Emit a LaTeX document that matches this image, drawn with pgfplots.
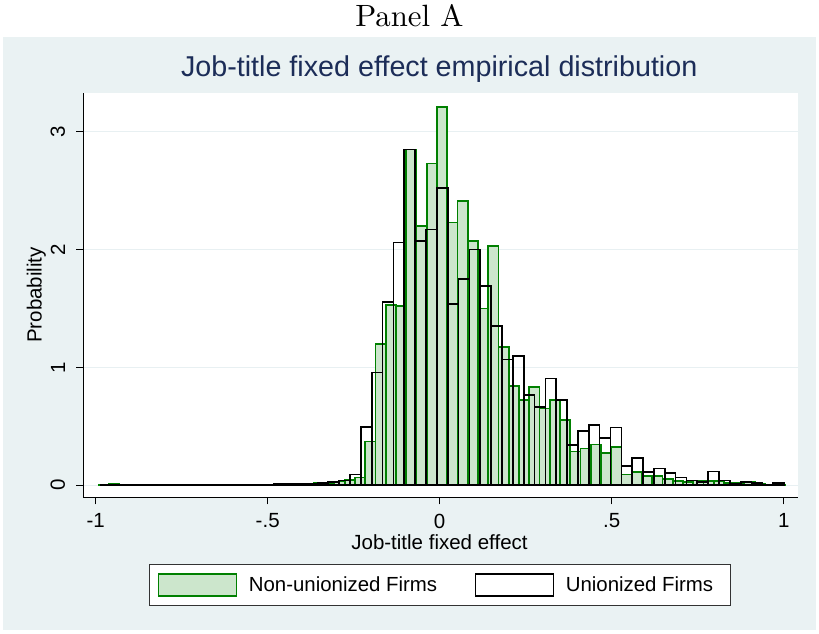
\documentclass[border=0pt]{standalone}
\usepackage{fontspec}
\usepackage{graphicx}
\usepackage{pgfplots}
\usepackage{pgfplotstable}
\pgfplotsset{compat=1.18}
\newfontfamily\arial{Liberation Sans}
\definecolor{bgcol}{RGB}{234,242,243}
\definecolor{gridcol}{RGB}{232,240,242}
\definecolor{titlecol}{RGB}{28,45,88}
\definecolor{gfill}{RGB}{204,230,204}
\definecolor{gline}{RGB}{0,128,0}

% Non-unionized firms: bin heights (67 bins), last row closes the final interval
\pgfplotstableread{
h
0.003
0.008
0.003
0.003
0.003
0.003
0.003
0.003
0.003
0.003
0.003
0.004
0.004
0.004
0.004
0.004
0.004
0.004
0.004
0.006
0.010
0.015
0.020
0.030
0.045
0.065
0.370
1.200
1.530
1.520
2.850
2.200
2.730
3.210
2.230
2.410
2.070
1.500
2.030
1.170
0.840
0.720
0.830
0.650
0.720
0.550
0.285
0.310
0.345
0.270
0.325
0.090
0.110
0.075
0.080
0.050
0.035
0.025
0.040
0.035
0.035
0.015
0.020
0.025
0.008
0.005
0.004
0
}\greendata

% Unionized firms: bin heights (63 bins), last row closes the final interval
\pgfplotstableread{
h
0.003
0.002
0.002
0.002
0.003
0.002
0.002
0.003
0.002
0.003
0.003
0.004
0.005
0.006
0.006
0.005
0.008
0.010
0.013
0.012
0.020
0.027
0.040
0.090
0.495
0.957
1.556
2.060
2.850
2.070
2.170
2.520
1.540
1.750
2.000
1.690
1.350
1.067
1.095
0.764
0.665
0.906
0.720
0.340
0.458
0.510
0.400
0.490
0.160
0.230
0.110
0.140
0.100
0.065
0.040
0.025
0.115
0.040
0.010
0.025
0.015
0.005
0.020
0
}\blackdata

\begin{document}
\begin{tikzpicture}
\useasboundingbox (0,0) rectangle (819pt,633pt);
\fill[white] (0,0) rectangle (819pt,633pt);
\fill[bgcol] (3pt,3pt) rectangle (816pt,596pt);
\node[anchor=base, inner sep=0pt] at (409.4pt,606pt) {\scalebox{3.08}{\fontsize{10}{12}\selectfont Panel A}};
\begin{axis}[
  at={(83pt,135.7pt)}, anchor=south west,
  scale only axis, width=714.7pt, height=404pt,
  xmin=-1.0369, xmax=1.0407, ymin=-0.1036, ymax=3.326,
  axis lines*=left,
  axis line style={-, black, line width=0.9pt},
  axis background/.style={fill=white},
  xtick={-1,-0.5,0,0.5,1}, xticklabels={-1,-.5,0,.5,1},
  ytick={0,1,2,3}, yticklabels={0,1,2,3},
  tick align=outside, major tick length=7pt,
  tick style={black, line width=0.9pt},
  ymajorgrids, grid style={draw=gridcol, line width=1.2pt},
  ticklabel style={font=\arial\fontsize{20.5}{24}\selectfont, inner sep=0pt},
  xticklabel style={anchor=north},
  yticklabel style={rotate=90, anchor=south},
  xticklabel shift=9.3pt, yticklabel shift=10.7pt,
  title={Job-title fixed effect empirical distribution},
  title style={at={(axis description cs:0.4984,1.0255)}, anchor=base, inner sep=0pt,
    font=\arial\fontsize{28.7}{34}\selectfont, text=titlecol},
  xlabel={Job-title fixed effect},
  xlabel style={at={(axis description cs:0.4988,-0.128)}, anchor=base, inner sep=0pt,
    font=\arial\fontsize{20.5}{24}\selectfont},
  ylabel={Probability},
  ylabel style={at={(axis description cs:-0.0578,0.5007)}, anchor=base, inner sep=0pt,
    font=\arial\fontsize{20.5}{24}\selectfont},
  legend columns=2, legend cell align=left,
  legend image code/.code={\draw[#1] (0pt,-10.85pt) rectangle (78pt,10.85pt);},
  legend style={at={(axis description cs:0.4991,-0.1658)}, anchor=north,
    draw=black!80, line width=0.9pt, fill=white,
    font=\arial\fontsize{20.4}{24}\selectfont,
    inner xsep=8.4pt, inner ysep=8.6pt, nodes={inner sep=0pt},
    /tikz/every odd column/.append style={column sep=11.5pt},
    /tikz/every even column/.append style={column sep=37.5pt}},
]
\addplot[ybar interval, fill=gfill, draw=gline, line width=1.7pt]
  table[x expr={-0.99128+\coordindex*0.029797}, y=h] {\greendata};
\addlegendentry{Non-unionized Firms}
\addplot[ybar interval, fill=none, draw=black, line width=1.7pt]
  table[x expr={-0.98645+\coordindex*0.031552}, y=h] {\blackdata};
\addlegendentry{Unionized Firms\hspace*{8.5pt}}
\end{axis}
\end{tikzpicture}
\end{document}
